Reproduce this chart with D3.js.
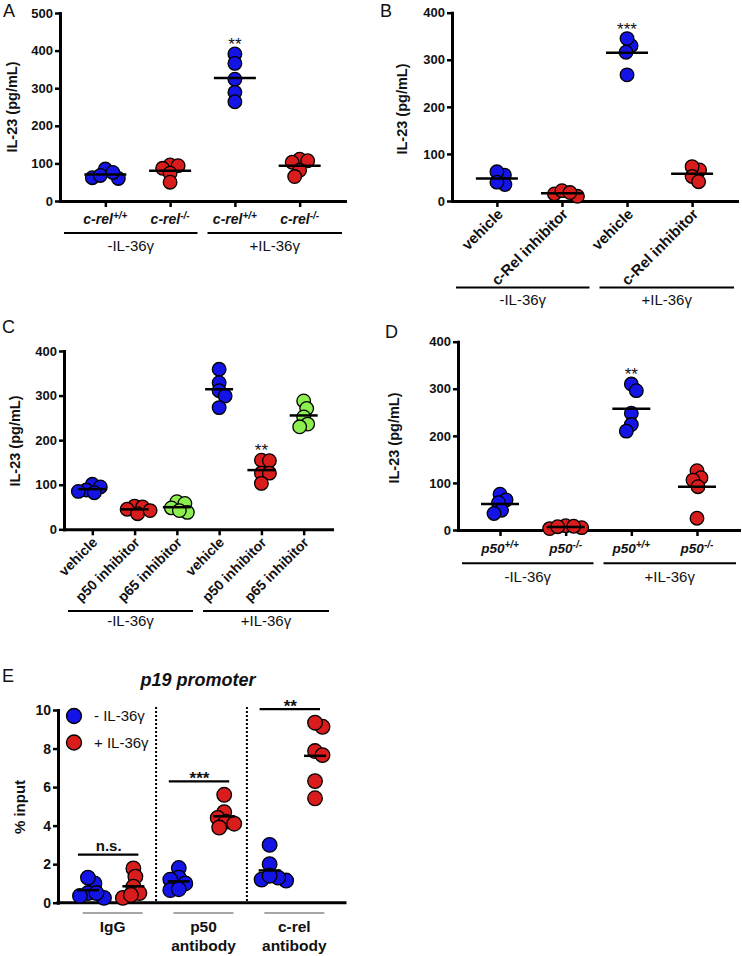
<!DOCTYPE html>
<html><head><meta charset="utf-8">
<script src="https://cdn.jsdelivr.net/npm/d3@7"></script>
<style>
body{margin:0;background:#fff}
svg{display:block}
text{font-family:"Liberation Sans",Arial,Helvetica,sans-serif;fill:#111}
</style>
</head><body>
<svg id="chart" width="742" height="956"></svg>
<script>
// ---------------- DATA ----------------
const treatments = ["-IL-36γ", "+IL-36γ"];
const yTicks400 = [0, 100, 200, 300, 400];
const yTicks500 = [0, 100, 200, 300, 400, 500];
const eTicks = [0, 2, 4, 6, 8, 10];

// Panel A
const aCategories = ["c-rel", "c-rel", "c-rel", "c-rel"];
const aGenotypes = ["+/+", "-/-", "+/+", "-/-"];
const aValues = [
  [85, 60, 62, 68, 76],
  [96, 87, 94, 74, 50],
  [391, 366, 324, 289, 264],
  [111, 103, 107, 82, 65]
];
const aSig = ["", "", "**", ""];

// Panel B
const bCategories = ["vehicle", "c-Rel inhibitor", "vehicle", "c-Rel inhibitor"];
const bValues = [
  [55, 62, 35, 40],
  [15, 22, 10, 18],
  [330, 345, 316, 268],
  [66, 73, 52, 41]
];
const bSig = ["", "", "***", ""];

// Panel C
const cCategories = ["vehicle", "p50 inhibitor", "p65 inhibitor", "vehicle", "p50 inhibitor", "p65 inhibitor"];
const cValues = [
  [101, 95, 88, 82, 85],
  [52, 50, 45, 35, 42],
  [62, 58, 48, 38, 42],
  [359, 329, 311, 299, 273],
  [155, 154, 126, 126, 103],
  [288, 271, 252, 236, 230]
];
const cSig = ["", "", "", "", "**", ""];

// Panel D
const dCategories = ["p50", "p50", "p50", "p50"];
const dGenotypes = ["+/+", "-/-", "+/+", "-/-"];
const dValues = [
  [76, 64, 58, 42, 35],
  [9, 5, 3, 8, 7],
  [310, 296, 248, 224, 210],
  [126, 111, 106, 92, 25]
];
const dSig = ["", "", "**", ""];

// Panel E
const eTitle = "p19 promoter";
const eAntibodies = [["IgG"], ["p50", "antibody"], ["c-rel", "antibody"]];
const eSeries = ["- IL-36γ", "+ IL-36γ"];
const eMinus = [
  [1.0, 1.3, 0.5, 0.35, 0.25, 0.5],
  [1.8, 1.3, 1.2, 1.0, 0.65, 0.7],
  [3.0, 2.0, 1.2, 1.15, 1.3, 1.4]
];
const ePlus = [
  [1.78, 1.35, 0.83, 0.5, 0.25, 0.4],
  [5.6, 4.7, 4.4, 4.2, 3.9, 4.1],
  [9.13, 9.34, 7.87, 7.66, 6.31, 5.42]
];
const eSig = ["n.s.", "***", "**"];
const eSigLevel = [2.5, 6.3, 10.05];

// ---------------- STYLE ----------------
const BLUE = "#1414e6", RED = "#d91c1c", GREEN = "#8def4f";
const svg = d3.select("#chart");

function swarmOffsets(values, y, minDist) {
  const pts = values.map((v, i) => ({ i, py: y(v), dx: 0 }));
  const order = pts.slice().sort((a, b) => a.py - b.py);
  const placed = [];
  order.forEach((p, k) => {
    const sign = k % 2 === 0 ? -1 : 1;
    for (let s = 0; s < 80; s += 0.5) {
      const cands = s === 0 ? [0] : [sign * s, -sign * s];
      let ok = null;
      for (const c of cands) {
        if (placed.every(q => (c - q.dx) ** 2 + (p.py - q.py) ** 2 >= minDist * minDist)) { ok = c; break; }
      }
      if (ok !== null) { p.dx = ok; break; }
    }
    placed.push(p);
  });
  return pts.map(p => p.dx);
}

function styleAxis(sel, fontSize) {
  sel.attr("font-family", null);
  sel.select(".domain").attr("stroke", "#000").attr("stroke-width", 3).attr("stroke-linecap", "square");
  sel.selectAll(".tick line").attr("stroke", "#000").attr("stroke-width", 2.5);
  sel.selectAll(".tick text").attr("font-size", fontSize).attr("font-weight", "bold")
    .attr("fill", "#111").style("font-family", '"Liberation Sans",Arial,sans-serif');
}

function drawDots(g, xPos, vals, y, color, r, minD, half) {
  const offs = swarmOffsets(vals, y, minD);
  g.selectAll(null).data(vals).join("circle")
    .attr("cx", (d, j) => xPos + offs[j]).attr("cy", d => y(d)).attr("r", r)
    .attr("fill", color).attr("stroke", "#000").attr("stroke-width", 1.3);
  const m = d3.mean(vals);
  g.append("line").attr("x1", xPos - half).attr("x2", xPos + half)
    .attr("y1", y(m)).attr("y2", y(m)).attr("stroke", "#000").attr("stroke-width", 2.5);
}

function drawPanel(cfg) {
  const g = svg.append("g");
  const y = d3.scaleLinear().domain([0, cfg.yMax]).range([cfg.y0, cfg.y1]);
  const x = d3.scalePoint().domain(d3.range(cfg.cats.length)).range([cfg.xa, cfg.xb]).padding(cfg.pad);

  const ya = g.append("g").attr("transform", `translate(${cfg.xa},0)`)
    .call(d3.axisLeft(y).tickValues(cfg.ticks).tickSize(5).tickSizeOuter(0).tickPadding(2));
  styleAxis(ya, 13);
  const xa = g.append("g").attr("transform", `translate(0,${cfg.y0})`)
    .call(d3.axisBottom(x).tickSize(6).tickSizeOuter(0).tickFormat(""));
  styleAxis(xa, 12);

  cfg.vals.forEach((vals, i) => {
    drawDots(g, x(i), vals, y, cfg.color(i), 6.8, 8, cfg.half);
    if (cfg.sig[i]) {
      g.append("text").attr("x", x(i)).attr("y", y(d3.max(vals)) - 14 + 10)
        .attr("text-anchor", "middle").attr("font-size", 17).text(cfg.sig[i]);
    }
  });

  // category labels
  cfg.cats.forEach((c, i) => {
    if (cfg.rotated) {
      g.append("text").attr("transform", `translate(${x(i) + cfg.rotDx},${cfg.y0 + cfg.rotDy}) rotate(-45)`)
        .attr("text-anchor", "end").attr("font-weight", "bold").attr("font-size", cfg.catFont).text(c);
    } else {
      const t = g.append("text").attr("x", x(i)).attr("y", cfg.catY).attr("text-anchor", "middle")
        .attr("font-weight", "bold").attr("font-style", "italic").attr("font-size", cfg.catFont);
      t.append("tspan").text(c);
      t.append("tspan").attr("dy", -5).attr("font-size", 10).text(cfg.sups[i]);
    }
  });

  // group lines
  const mid = (cfg.xa + cfg.xb) / 2;
  const spans = [[cfg.xa + 4, mid - 5], [mid + 5, cfg.xb - 3]];
  spans.forEach((s, k) => {
    g.append("line").attr("x1", s[0]).attr("x2", s[1]).attr("y1", cfg.groupY).attr("y2", cfg.groupY)
      .attr("stroke", "#000").attr("stroke-width", 2);
    g.append("text").attr("x", (s[0] + s[1]) / 2).attr("y", cfg.groupTextY).attr("text-anchor", "middle")
      .attr("font-size", 15).text(treatments[k]);
  });

  // y title
  g.append("text").attr("transform", `translate(${cfg.titleX},${cfg.titleY}) rotate(-90)`)
    .attr("text-anchor", "middle").attr("font-weight", "bold").attr("font-size", 14.5).text("IL-23 (pg/mL)");
  // panel letter
  g.append("text").attr("x", cfg.letterX).attr("y", cfg.letterY).attr("font-size", 18).text(cfg.letter);
}

const genoColor = d3.scaleOrdinal().domain(["+/+", "-/-"]).range([BLUE, RED]);
const treatColor = d3.scaleOrdinal().domain(["vehicle", "c-Rel inhibitor", "p50 inhibitor", "p65 inhibitor"])
  .range([BLUE, RED, RED, GREEN]);

drawPanel({
  letter: "A", letterX: 3, letterY: 17,
  xa: 60, xb: 345, y0: 201, y1: 13, yMax: 500, ticks: yTicks500, pad: 0.7,
  cats: aCategories, sups: aGenotypes, vals: aValues, sig: aSig,
  color: i => genoColor(aGenotypes[i]), half: 21,
  rotated: false, catFont: 14, catY: 224,
  groupY: 233, groupTextY: 250.5, titleX: 17, titleY: 107
});
drawPanel({
  letter: "B", letterX: 380, letterY: 17,
  xa: 452, xb: 737, y0: 201, y1: 12.7, yMax: 400, ticks: yTicks400, pad: 0.69,
  cats: bCategories, vals: bValues, sig: bSig,
  color: i => treatColor(bCategories[i]), half: 21,
  rotated: true, rotDx: 7, rotDy: 14, catFont: 15,
  groupY: 287.5, groupTextY: 304.5, titleX: 407, titleY: 109
});
drawPanel({
  letter: "C", letterX: 2, letterY: 333,
  xa: 64, xb: 332, y0: 529.3, y1: 351, yMax: 400, ticks: yTicks400, pad: 0.67,
  cats: cCategories, vals: cValues, sig: cSig,
  color: i => treatColor(cCategories[i]), half: 14,
  rotated: true, rotDx: 6, rotDy: 14, catFont: 14,
  groupY: 611, groupTextY: 626, titleX: 20, titleY: 441
});
drawPanel({
  letter: "D", letterX: 385, letterY: 338,
  xa: 458, xb: 739, y0: 530, y1: 341.7, yMax: 400, ticks: yTicks400, pad: 0.64,
  cats: dCategories, sups: dGenotypes, vals: dValues, sig: dSig,
  color: i => genoColor(dGenotypes[i]), half: 19,
  rotated: false, catFont: 13.5, catY: 553,
  groupY: 563.3, groupTextY: 582, titleX: 398.5, titleY: 438
});

// ---------------- PANEL E ----------------
(function () {
  const g = svg.append("g");
  const xa = 58, xb = 345, y0 = 902.7, y1 = 710;
  const y = d3.scaleLinear().domain([0, 10]).range([y0, y1]);
  const x = d3.scalePoint().domain(d3.range(eAntibodies.length * 2)).range([xa, xb]).padding(0.66);
  const sColor = d3.scaleOrdinal().domain(eSeries).range([BLUE, RED]);

  // dotted separators
  for (let k = 1; k < eAntibodies.length; k++) {
    const sx = (x(2 * k - 1) + x(2 * k)) / 2;
    g.append("line").attr("x1", sx).attr("x2", sx).attr("y1", y1 - 3).attr("y2", y0)
      .attr("stroke", "#000").attr("stroke-width", 2).attr("stroke-dasharray", "2,2");
  }

  const ya = g.append("g").attr("transform", `translate(${xa},0)`)
    .call(d3.axisLeft(y).tickValues(eTicks).tickSize(5).tickSizeOuter(0).tickPadding(2));
  styleAxis(ya, 14);
  g.append("line").attr("x1", xa).attr("x2", xb).attr("y1", y0).attr("y2", y0)
    .attr("stroke", "#000").attr("stroke-width", 3).attr("stroke-linecap", "square");

  eAntibodies.forEach((lines, k) => {
    const xm = x(2 * k), xp = x(2 * k + 1);
    drawDots(g, xm, eMinus[k], y, sColor(eSeries[0]), 7.3, 8.5, 11);
    drawDots(g, xp, ePlus[k], y, sColor(eSeries[1]), 7.3, 8.5, 11);
    // significance bar
    const ly = y(eSigLevel[k]);
    g.append("line").attr("x1", xm - 10).attr("x2", xp + 5).attr("y1", ly).attr("y2", ly)
      .attr("stroke", "#000").attr("stroke-width", 2.2);
    const isNs = eSig[k] === "n.s.";
    g.append("text").attr("x", (xm + xp) / 2 - 2).attr("y", isNs ? ly - 4 : ly + 3)
      .attr("text-anchor", "middle").attr("font-weight", "bold").attr("font-size", isNs ? 15 : 17).text(eSig[k]);
    // group underline + label
    const c = (xm + xp) / 2 + 2;
    g.append("line").attr("x1", c - 30).attr("x2", c + 30).attr("y1", 913).attr("y2", 913)
      .attr("stroke", "#888").attr("stroke-width", 1.5);
    lines.forEach((t, j) => {
      g.append("text").attr("x", c).attr("y", 932 + j * 18.5).attr("text-anchor", "middle")
        .attr("font-weight", "bold").attr("font-size", 15.5).text(t);
    });
  });

  // legend
  eSeries.forEach((s, k) => {
    g.append("circle").attr("cx", 74).attr("cy", 716 + k * 26.5).attr("r", 7.5)
      .attr("fill", sColor(s)).attr("stroke", "#000").attr("stroke-width", 1.3);
    g.append("text").attr("x", 94).attr("y", 721 + k * 26.5).attr("font-size", 15).text(s);
  });

  g.append("text").attr("transform", `translate(25,807) rotate(-90)`).attr("text-anchor", "middle")
    .attr("font-weight", "bold").attr("font-size", 15).text("% input");
  g.append("text").attr("x", 198).attr("y", 686).attr("text-anchor", "middle")
    .attr("font-weight", "bold").attr("font-style", "italic").attr("font-size", 18).text(eTitle);
  g.append("text").attr("x", 2).attr("y", 682).attr("font-size", 18).text("E");
})();
</script>
</body></html>
